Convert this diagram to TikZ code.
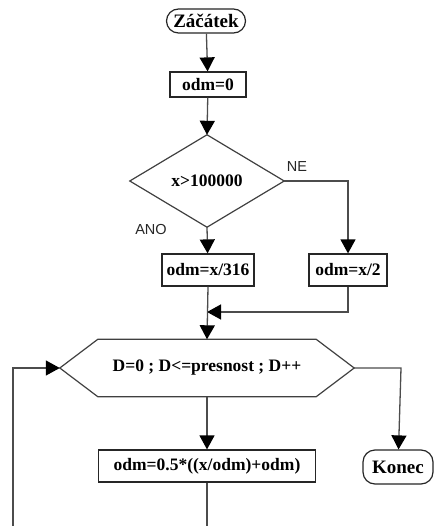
\documentclass[tikz,border=0pt]{standalone}
\usepackage{fontspec}
\setmainfont{Liberation Serif}
\newfontfamily\labelfont{Liberation Sans}
\usetikzlibrary{arrows.meta}

\tikzset{
  box/.style={draw=black!85, line width=1.2pt, fill=white, inner sep=0pt,
    font=\bfseries\fontsize{17.5}{20}\selectfont},
  terminal/.style={box, rounded corners=12pt,
    font=\bfseries\fontsize{19}{21}\selectfont},
  hidden/.style={inner sep=0pt, font=\bfseries\fontsize{17.5}{20}\selectfont},
  outline/.style={draw=black!75, line width=1.2pt},
  flow/.style={draw=black!70, line width=1.3pt,
    -{Triangle[width=15pt,length=14pt,color=black]}},
  answer/.style={font=\labelfont\fontsize{14.5}{16}\selectfont, text=black!85}
}

\begin{document}
\begin{tikzpicture}[x=1pt, y=-1pt]
  \useasboundingbox (0,0) rectangle (434,526);

  % nodes of the flow chart
  \node[terminal, minimum width=79pt, minimum height=24pt] (start) at (206,21) {Záčátek};
  \node[box, minimum width=76pt, minimum height=25pt] (init) at (208,84.5) {odm=0};
  \node[hidden, minimum width=154pt, minimum height=92pt] (cond) at (207,181) {x>100000};
  \node[box, minimum width=92pt, minimum height=32pt] (big) at (208,270) {odm=x/316};
  \node[box, minimum width=78pt, minimum height=32pt] (small) at (348,270) {odm=x/2};
  \node[hidden, minimum width=294pt, minimum height=57pt] (loop) at (207,368) {D=0 ; D<=presnost ; D++};
  \node[box, minimum width=217pt, minimum height=32pt] (body) at (207,466) {odm=0.5*((x/odm)+odm)};
  \node[terminal, minimum width=70pt, minimum height=34pt] (stop) at (398,467) {Konec};

  % decision and loop outlines
  \draw[outline] (cond.north) -- (cond.east) -- (cond.south) -- (cond.west) -- cycle;
  \draw[outline] (loop.west) -- ([xshift=38pt]loop.north west)
    -- ([xshift=-38pt]loop.north east) -- (loop.east)
    -- ([xshift=-38pt]loop.south east) -- ([xshift=38pt]loop.south west) -- cycle;

  % branch labels
  \node[answer] (yes) at (151,230) {ANO};
  \node[answer] (no) at (297,167) {NE};

  % helper points
  \coordinate (join) at (207,312);
  \coordinate (ne) at (348,181);
  \coordinate (exitc) at (401,368);
  \coordinate (backr) at (207,540);
  \coordinate (backl) at (13,540);

  % connectors
  \draw[flow] (start) -- (init);
  \draw[flow] (init) -- (cond.north);
  \draw[flow] (cond.south) -- (big);
  \draw[flow] (cond.east) -- (ne) -- (small);
  \draw[flow] (small.south) |- (join);
  \draw[flow] (big.south) -- (loop.north);
  \draw[flow] (loop.south) -- (body);
  \draw[flow] (loop.east) -- (exitc) -- (stop);
  \draw[flow] (body.south) -- (backr) -- (backl) |- (loop.west);
\end{tikzpicture}
\end{document}
